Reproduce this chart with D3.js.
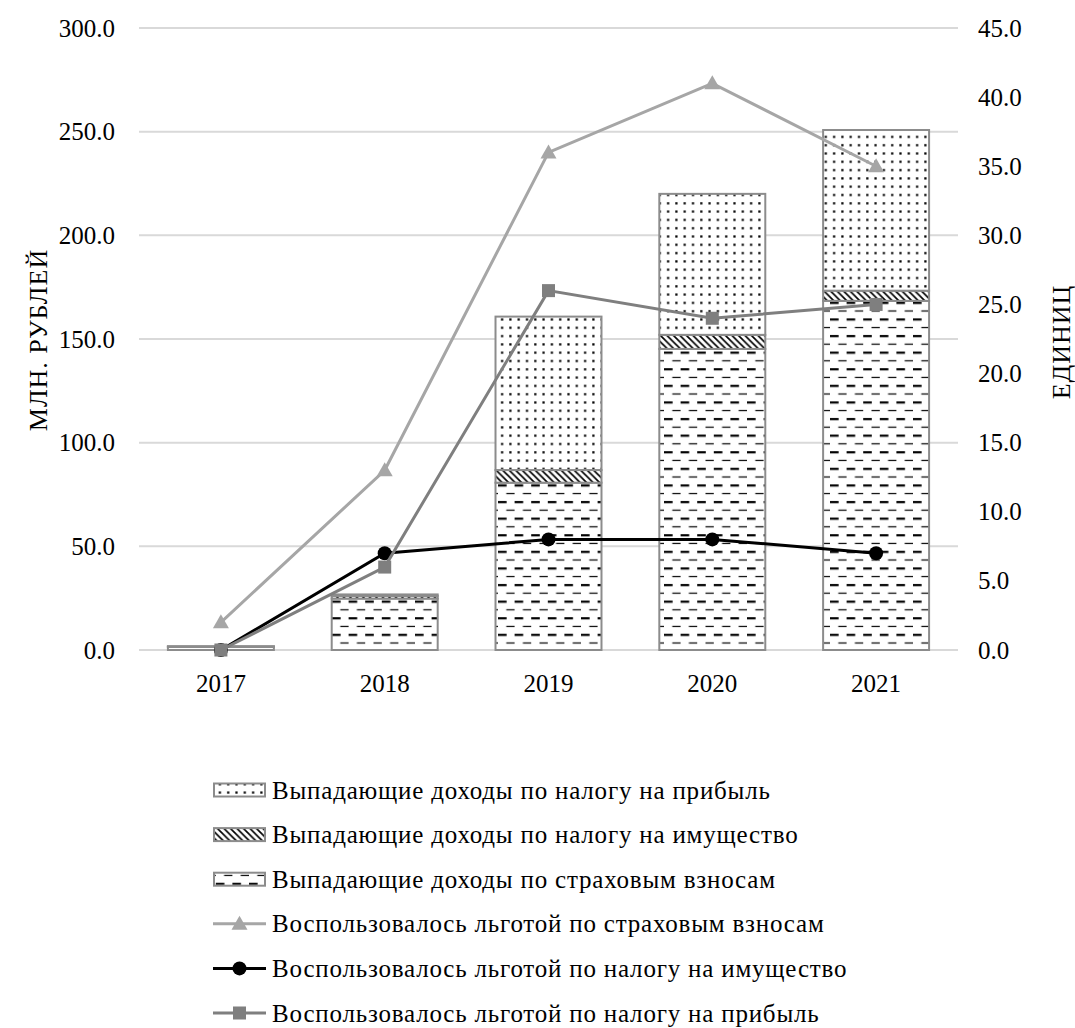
<!DOCTYPE html>
<html><head><meta charset="utf-8">
<script src="https://cdn.jsdelivr.net/npm/d3@7"></script>
<style>
html,body{margin:0;padding:0;background:#fff;}
svg text{font-family:"Liberation Serif","Times New Roman",serif;fill:#000;}
</style></head>
<body><svg id="chart" width="1075" height="1028"></svg>
<script>
const years = ["2017","2018","2019","2020","2021"];
const incomeInsurance = [1.5, 24.8, 80.7, 145.2, 168.4];   // страховые взносы
const incomeProperty  = [0.2, 1.3, 6.1, 6.8, 4.9];          // налог на имущество
const incomeProfit    = [0.1, 0.7, 74.0, 68.0, 77.5];        // налог на прибыль
const usedInsurance = [2, 13, 36, 41, 35];
const usedProperty  = [0, 7, 8, 8, 7];
const usedProfit    = [0, 6, 26, 24, 25];
const leftTicks  = [0, 50, 100, 150, 200, 250, 300];
const rightTicks = [0, 5, 10, 15, 20, 25, 30, 35, 40, 45];
const legendLabels = [
  "Выпадающие доходы по налогу на прибыль",
  "Выпадающие доходы по налогу на имущество",
  "Выпадающие доходы по страховым взносам",
  "Воспользовалось льготой по страховым взносам",
  "Воспользовалось льготой по налогу на имущество",
  "Воспользовалось льготой по налогу на прибыль"
];

const svg = d3.select("#chart");
const defs = svg.append("defs");

// patterns
const pDots = defs.append("pattern").attr("id","pDots").attr("patternUnits","userSpaceOnUse")
  .attr("width",8.3).attr("height",8.3);
pDots.append("rect").attr("width",8.3).attr("height",8.3).attr("fill","#fff");
pDots.append("rect").attr("x",3).attr("y",3).attr("width",2.2).attr("height",2.2).attr("fill","#000");

const pHatch = defs.append("pattern").attr("id","pHatch").attr("patternUnits","userSpaceOnUse")
  .attr("width",6.5).attr("height",6.5);
pHatch.append("rect").attr("width",6.5).attr("height",6.5).attr("fill","#fff");
pHatch.append("path").attr("d","M0,0L6.5,6.5M-2,4.5L2,8.5M4.5,-2L8.5,2").attr("stroke","#000").attr("stroke-width",1.7);

const pDash = defs.append("pattern").attr("id","pDash").attr("patternUnits","userSpaceOnUse")
  .attr("width",16.6).attr("height",16.6);
pDash.append("rect").attr("width",16.6).attr("height",16.6).attr("fill","#fff");
pDash.append("rect").attr("x",0).attr("y",3).attr("width",8.6).attr("height",2.2).attr("fill","#000");
pDash.append("rect").attr("x",8.3).attr("y",11.6).attr("width",8.3).attr("height",1.2).attr("fill","#000");

const x = d3.scaleBand().domain(years).range([139, 958]).paddingInner(0.353).paddingOuter(0.1765);
const yL = d3.scaleLinear().domain([0,300]).range([650,28]);
const yR = d3.scaleLinear().domain([0,45]).range([650,28]);

// gridlines
const grid = svg.append("g");
grid.selectAll("line").data(leftTicks).join("line")
  .attr("x1",139).attr("x2",958).attr("y1",d=>yL(d)).attr("y2",d=>yL(d))
  .attr("stroke","#d9d9d9").attr("stroke-width",2);

// axes (labels only)
const axL = svg.append("g").attr("transform","translate(139,0)")
  .call(d3.axisLeft(yL).tickValues(leftTicks).tickFormat(d3.format(".1f")).tickSize(0).tickPadding(24));
const axR = svg.append("g").attr("transform","translate(958,0)")
  .call(d3.axisRight(yR).tickValues(rightTicks).tickFormat(d3.format(".1f")).tickSize(0).tickPadding(20));
const axX = svg.append("g").attr("transform","translate(0,650)")
  .call(d3.axisBottom(x).tickSize(0).tickPadding(24));
[axL,axR,axX].forEach(a=>{
  a.select(".domain").remove();
  a.selectAll("text").style("font-family","Liberation Serif").style("font-size","25px").attr("fill","#000");
});

// stacked bars
const stackData = years.map((y,i)=>({year:y, ins:incomeInsurance[i], prop:incomeProperty[i], prof:incomeProfit[i]}));
const stack = d3.stack().keys(["ins","prop","prof"])(stackData);
const fills = {ins:"url(#pDash)", prop:"url(#pHatch)", prof:"url(#pDots)"};
stack.forEach(layer=>{
  svg.append("g").selectAll("rect").data(layer).join("rect")
    .attr("x",d=>x(d.data.year)).attr("width",x.bandwidth())
    .attr("y",d=>yL(d[1])).attr("height",d=>yL(d[0])-yL(d[1]))
    .attr("fill",fills[layer.key]).attr("stroke","#8c8c8c").attr("stroke-width",2);
});

const cx = d=>x(d)+x.bandwidth()/2;
function drawLine(vals,color,marker,mcolor){
  const pts = years.map((y,i)=>[cx(y), yR(vals[i])]);
  svg.append("path").attr("d",d3.line()(pts)).attr("fill","none").attr("stroke",color).attr("stroke-width",3);
  const g = svg.append("g");
  pts.forEach(p=>drawMarker(g,p[0],p[1],marker,mcolor));
}
function drawMarker(g,px,py,marker,c){
  if(marker==="tri"){
    g.append("path").attr("d",`M${px},${py-8}L${px+8},${py+6}L${px-8},${py+6}Z`).attr("fill",c);
  } else if(marker==="circle"){
    g.append("circle").attr("cx",px).attr("cy",py).attr("r",7).attr("fill",c);
  } else {
    g.append("rect").attr("x",px-6.5).attr("y",py-6.5).attr("width",13).attr("height",13).attr("fill",c);
  }
}
drawLine(usedInsurance,"#a6a6a6","tri","#a6a6a6");
drawLine(usedProperty,"#000","circle","#000");
drawLine(usedProfit,"#7f7f7f","sq","#7f7f7f");

// axis titles
svg.append("text").attr("transform","translate(47,340) rotate(-90)").attr("text-anchor","middle")
  .style("font-size","26px").style("letter-spacing","1px").text("МЛН. РУБЛЕЙ");
svg.append("text").attr("transform","translate(1070,342) rotate(-90)").attr("text-anchor","middle")
  .style("font-size","26px").style("letter-spacing","1px").text("ЕДИНИЦ");

// legend
const lg = svg.append("g");
const legFills = ["url(#pDots)","url(#pHatch)","url(#pDash)"];
const legLines = [["#a6a6a6","tri"],["#000","circle"],["#7f7f7f","sq"]];
legendLabels.forEach((t,i)=>{
  const cy = 790 + i*44.6;
  if(i<3){
    lg.append("rect").attr("x",214).attr("y",cy-6.5).attr("width",51).attr("height",13)
      .attr("fill",legFills[i]).attr("stroke","#8c8c8c").attr("stroke-width",2);
  } else {
    const [c,m] = legLines[i-3];
    lg.append("line").attr("x1",213).attr("x2",266).attr("y1",cy).attr("y2",cy).attr("stroke",c).attr("stroke-width",3);
    drawMarker(lg,239.5,cy,m,c);
  }
  lg.append("text").attr("x",272).attr("y",cy+8.5).style("font-size","25px").style("letter-spacing","0.8px").text(t);
});
</script></body></html>
